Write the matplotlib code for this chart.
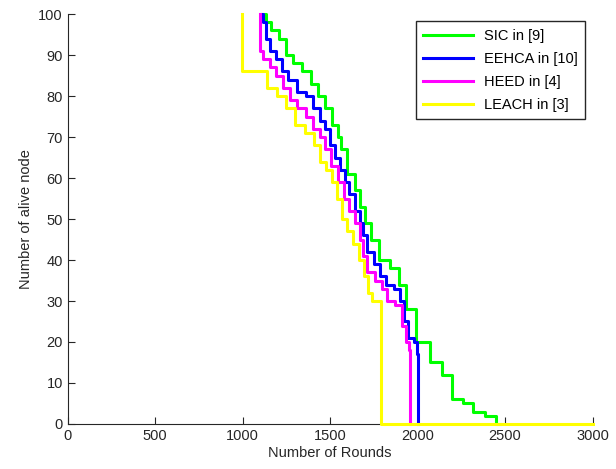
import matplotlib
matplotlib.use("Agg")
import matplotlib.pyplot as plt

# Alive nodes vs rounds
sic_rounds = [1126, 1143, 1183, 1229, 1269, 1309, 1366, 1411, 1451, 1486, 1537, 1554, 1571,
              1623, 1657, 1686, 1709, 1754, 1800, 1880, 1909, 1954, 2029, 2109, 2166, 2223,
              2297, 2337, 2429, 2469]
sic_alive = [100, 98, 96, 94, 90, 88, 86, 83, 80, 77, 73, 70, 67,
             61, 57, 53, 49, 45, 40, 38, 34, 28, 20, 15, 12, 6,
             5, 3, 2, 0]

eehca_rounds = [1109, 1126, 1137, 1171, 1211, 1240, 1280, 1337, 1383, 1423, 1457, 1486, 1514,
                1543, 1571, 1594, 1623, 1657, 1680, 1697, 1726, 1771, 1800, 1840, 1886, 1914,
                1926, 1966, 1994, 2000, 2000]
eehca_alive = [100, 98, 94, 91, 89, 86, 84, 81, 80, 77, 74, 72, 68,
               65, 62, 59, 56, 52, 49, 46, 42, 39, 36, 34, 33, 30,
               25, 21, 20, 17, 0]

heed_rounds = [1097, 1097, 1137, 1171, 1211, 1251, 1286, 1337, 1383, 1423, 1457, 1486, 1526,
               1566, 1594, 1623, 1657, 1680, 1697, 1726, 1783, 1811, 1840, 1897, 1926, 1943,
               1954, 1954]
heed_alive = [100, 91, 89, 87, 85, 82, 79, 77, 75, 72, 70, 67, 63,
              59, 55, 52, 49, 45, 41, 37, 35, 33, 30, 29, 24, 20,
              18, 0]

leach_rounds = [994, 994, 1109, 1166, 1223, 1269, 1326, 1383, 1429, 1457, 1497, 1526, 1554,
                1583, 1611, 1651, 1680, 1709, 1726, 1754, 1789, 1789, 3000, 3000]
leach_alive = [100, 86, 86, 82, 80, 77, 73, 71, 68, 64, 62, 59, 55,
               50, 47, 44, 40, 36, 32, 30, 30, 0, 0, 0]

labels = ["SIC in [9]", "EEHCA in [10]", "HEED in [4]", "LEACH in [3]"]
colors = ["#00ff00", "#0000ff", "#ff00ff", "#ffff00"]

plt.rcParams["font.family"] = ["Liberation Sans", "DejaVu Sans"]
plt.rcParams["font.size"] = 10.5

fig = plt.figure(figsize=(6.16, 4.69), dpi=100)
ax = fig.add_axes([0.110, 0.096, 0.852, 0.874])

series = [(sic_rounds, sic_alive), (eehca_rounds, eehca_alive),
          (heed_rounds, heed_alive), (leach_rounds, leach_alive)]
for (xs, ys), lab, col in zip(series, labels, colors):
    ax.plot(xs, ys, drawstyle="steps-mid", color=col, lw=2.2, label=lab,
            clip_on=False, zorder=3)

ax.set_xlim(0, 3000)
ax.set_ylim(0, 100)
ax.set_xticks(range(0, 3001, 500))
ax.set_yticks(range(0, 101, 10))
ax.tick_params(direction="in", length=5, width=0.8, colors="#262626", labelcolor="#262626")
ax.spines["top"].set_visible(False)
ax.spines["right"].set_visible(False)
ax.spines["left"].set_color("#262626")
ax.spines["bottom"].set_color("#262626")

ax.set_xlabel("Number of Rounds", color="#262626", labelpad=2)
ax.set_ylabel("Number of alive node", color="#262626", labelpad=4)

leg = ax.legend(loc="upper right", fancybox=False, edgecolor="#262626",
                handlelength=3.4, borderaxespad=0.5, labelspacing=0.62,
                borderpad=0.5, framealpha=1)
leg.get_frame().set_linewidth(1.0)

fig.savefig("out.png", dpi=100)
